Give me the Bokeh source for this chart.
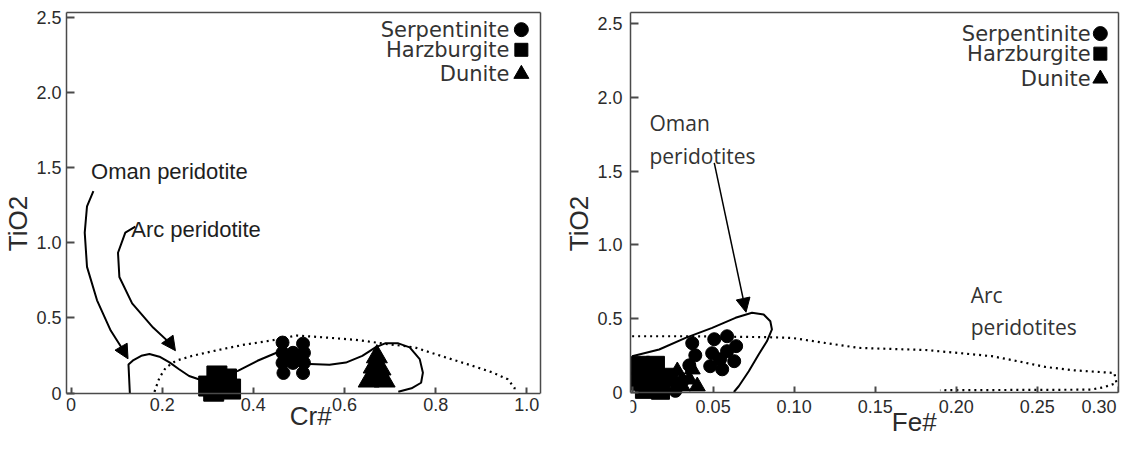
from bokeh.plotting import figure
from bokeh.layouts import row
from bokeh.models import Range1d, FixedTicker, Arrow, NormalHead, LinearAxis
from bokeh.core.properties import value
from bokeh.embed import file_html
from bokeh.resources import INLINE

NB = "\u00a0"

# ---------------- Left panel: Cr# vs TiO2 ----------------
cr_ticks = [0, 0.2, 0.4, 0.6, 0.8, 1.0]
cr_tick_labels = ["0", "0.2", "0.4", "0.6", "0.8", "1.0"]
ti_ticks = [0, 0.5, 1.0, 1.5, 2.0, 2.5]
ti_tick_labels = ["0", "0.5", "1.0", "1.5", "2.0", "2.5"]

# Oman peridotite field (solid)
cr_oman_x = [0.129, 0.126, 0.137, 0.154, 0.172, 0.194, 0.216, 0.237, 0.259, 0.280, 0.322, 0.366,
             0.409, 0.452, 0.482, 0.524, 0.567, 0.603, 0.639, 0.668, 0.689, 0.718, 0.743, 0.765,
             0.772, 0.768, 0.747, 0.718]
cr_oman_y = [0.0, 0.19, 0.22, 0.248, 0.26, 0.242, 0.204, 0.159, 0.114, 0.092, 0.10, 0.148,
             0.215, 0.27, 0.235, 0.193, 0.188, 0.203, 0.248, 0.304, 0.331, 0.331, 0.304, 0.226,
             0.136, 0.069, 0.032, 0.009]
# Arc peridotite field (dotted)
cr_arc_x = [0.183, 0.194, 0.208, 0.230, 0.266, 0.323, 0.380, 0.438, 0.495, 0.553, 0.625, 0.682,
            0.754, 0.811, 0.869, 0.926, 0.958, 0.973, 0.973]
cr_arc_y = [0.009, 0.103, 0.170, 0.215, 0.248, 0.287, 0.322, 0.349, 0.383, 0.371, 0.354, 0.331,
            0.304, 0.248, 0.193, 0.136, 0.092, 0.036, 0.002]

serp_cr_x = [0.464, 0.464, 0.464, 0.466, 0.487, 0.487, 0.509, 0.511, 0.511, 0.509, 0.481, 0.498]
serp_cr_y = [0.336, 0.268, 0.201, 0.134, 0.268, 0.201, 0.329, 0.268, 0.201, 0.134, 0.235, 0.235]
harz_cr_x = [0.302, 0.313, 0.320, 0.341, 0.350]
harz_cr_y = [0.047, 0.013, 0.114, 0.094, 0.027]
dun_cr_x = [0.653, 0.688, 0.671, 0.664, 0.679, 0.671]
dun_cr_y = [0.081, 0.081, 0.094, 0.174, 0.161, 0.242]

cr_oman_arrow_x = [0.049, 0.035, 0.030, 0.035, 0.057, 0.087, 0.111, 0.125]
cr_oman_arrow_y = [1.342, 1.242, 1.067, 0.839, 0.617, 0.416, 0.302, 0.228]
cr_arc_arrow_x = [0.141, 0.119, 0.103, 0.106, 0.134, 0.180, 0.218, 0.229]
cr_arc_arrow_y = [1.107, 1.067, 0.933, 0.772, 0.597, 0.436, 0.329, 0.282]

# ---------------- Right panel: Fe# vs TiO2 ----------------
fe_ticks = [0, 0.05, 0.10, 0.15, 0.20, 0.25, 0.30]
fe_tick_labels = ["0", "0.05", "0.10", "0.15", "0.20", "0.25", "0.30" + NB]

fe_oman_x = [0.0, 0.0167, 0.033, 0.0494, 0.0638, 0.074, 0.0812, 0.0853, 0.0863, 0.0832, 0.0781,
             0.072, 0.0658, 0.0628]
fe_oman_y = [0.245, 0.29, 0.369, 0.437, 0.505, 0.539, 0.528, 0.482, 0.426, 0.346, 0.256,
             0.143, 0.041, 0.002]
fe_arc_x = [0.0, 0.037, 0.083, 0.0986, 0.119, 0.140, 0.181, 0.201, 0.222, 0.238, 0.255, 0.273,
            0.2976, 0.299, 0.291, 0.283, 0.19]
fe_arc_y = [0.380, 0.380, 0.374, 0.369, 0.335, 0.301, 0.287, 0.267, 0.245, 0.211, 0.172, 0.149,
            0.131, 0.063, 0.034, 0.018, 0.014]

harz_fe_x = [0.0052, 0.0052, 0.0144, 0.0144, 0.0224, 0.0076, 0.0175]
harz_fe_y = [0.183, 0.075, 0.183, 0.075, 0.102, 0.020, 0.014]
dun_fe_x = [0.0279, 0.0353, 0.031, 0.0402, 0.0371]
dun_fe_y = [0.143, 0.088, 0.041, 0.041, 0.156]
serp_fe_x = [0.0371, 0.039, 0.0353, 0.0507, 0.0586, 0.0494, 0.0586, 0.0642, 0.0482, 0.0556,
             0.063, 0.0543, 0.0267, 0.031]
serp_fe_y = [0.333, 0.251, 0.183, 0.360, 0.380, 0.265, 0.279, 0.313, 0.177, 0.156,
             0.211, 0.224, 0.01, 0.075]

legend_names = ["Serpentinite", "Harzburgite", "Dunite"]
legend_markers = ["circle", "square", "triangle"]

TXT = "#2b2b2b"
AX = "#4a4a4a"
AXFONT = "Liberation Sans"


def style_axis(ax):
    ax.axis_line_color = AX
    ax.axis_line_width = 1.5
    ax.major_tick_line_color = AX
    ax.major_tick_line_width = 2
    ax.major_tick_out = 0
    ax.minor_tick_line_color = None
    ax.major_label_text_font = AXFONT
    ax.major_label_text_font_size = "18px"
    ax.major_label_text_color = TXT
    ax.axis_label_text_font = AXFONT
    ax.axis_label_text_font_size = "26px"
    ax.axis_label_text_font_style = "normal"
    ax.axis_label_text_color = TXT


def frame_line_axis(bounds=None):
    ax = LinearAxis(ticker=FixedTicker(ticks=[]))
    if bounds is not None:
        ax.bounds = bounds
    ax.axis_line_color = AX
    ax.axis_line_width = 1.5
    ax.major_tick_out = 0
    ax.major_tick_in = 0
    ax.minor_tick_line_color = None
    ax.major_label_standoff = 0
    ax.axis_label_standoff = 0
    return ax


def make_fig(width, height, xr, yr, bl, br, bt, ymax, xticks, xlabels, xtitle):
    p = figure(width=width, height=height, x_range=Range1d(*xr), y_range=Range1d(*yr),
               output_backend="svg", toolbar_location=None, title=None,
               min_border_left=bl, min_border_right=br, min_border_top=bt, min_border_bottom=0)
    p.grid.visible = False
    p.outline_line_color = None
    p.background_fill_color = "white"
    p.border_fill_color = "white"
    xa, ya = p.xaxis[0], p.yaxis[0]
    style_axis(xa)
    style_axis(ya)
    xa.fixed_location = 0
    ya.bounds = (0, ymax)
    xa.major_tick_in = 6
    ya.major_tick_in = 8
    xa.major_label_standoff = 5
    ya.major_label_standoff = 5
    xa.axis_label_standoff = -14
    ya.axis_label_standoff = 0
    xa.ticker = FixedTicker(ticks=xticks)
    xa.major_label_overrides = dict(zip(xticks, xlabels))
    ya.ticker = FixedTicker(ticks=ti_ticks)
    ya.major_label_overrides = dict(zip(ti_ticks, ti_tick_labels))
    xa.axis_label = xtitle
    ya.axis_label = "TiO2"
    p.add_layout(frame_line_axis((0, ymax)), "right")
    p.add_layout(frame_line_axis(), "above")
    return p, xa, ya


def add_legend(p, tx, mx, ys, sizes):
    p.text(x=[tx] * 3, y=ys, text=legend_names, text_font=value("DejaVu Sans"),
           text_font_size="21px", text_align="right", text_baseline="middle", text_color="#333333")
    for m, yy, s in zip(legend_markers, ys, sizes):
        p.scatter(x=[mx], y=[yy], marker=m, size=s, color="black")


# ---------- left ----------
p1, xa1, ya1 = make_fig(555, 434, (-0.01, 1.03), (-0.275, 2.53), 64, 15, 7, 2.53,
                        cr_ticks, cr_tick_labels, NB * 2 + "Cr#")

p1.line(cr_arc_x, cr_arc_y, line_color="black", line_width=2.2, line_dash="2 4")
p1.line(cr_oman_x, cr_oman_y, line_color="black", line_width=2)
p1.scatter(harz_cr_x, harz_cr_y, marker="square", size=20, color="black")
p1.scatter(serp_cr_x, serp_cr_y, marker="circle", size=13, color="black")
p1.scatter(dun_cr_x, dun_cr_y, marker="triangle", size=21, color="black")

for ax_, ay_ in ((cr_oman_arrow_x, cr_oman_arrow_y), (cr_arc_arrow_x, cr_arc_arrow_y)):
    p1.line(ax_[:-1], ay_[:-1], line_color="black", line_width=2)
    p1.add_layout(Arrow(x_start=ax_[-2], y_start=ay_[-2], x_end=ax_[-1], y_end=ay_[-1],
                        line_width=2, line_color="black",
                        end=NormalHead(size=14, fill_color="black", line_color="black")))

p1.text(x=[0.044, 0.132], y=[1.47, 1.087], text=["Oman peridotite", "Arc peridotite"],
        text_font=value("Liberation Sans"), text_font_size="22px",
        text_align="left", text_baseline="middle", text_color="#1e1e1e")
add_legend(p1, 0.962, 0.988, [2.416, 2.282, 2.121], [14, 13, 15])

# ---------- right ----------
p2, xa2, ya2 = make_fig(566, 434, (-0.001, 0.3002), (-0.286, 2.575), 75, 3, 12, 2.575,
                        fe_ticks, fe_tick_labels, NB * 11 + "Fe#")
ya2.major_label_standoff = 8

p2.line(fe_arc_x, fe_arc_y, line_color="black", line_width=2.2, line_dash="2 4")
p2.line(fe_oman_x, fe_oman_y, line_color="black", line_width=2)
p2.scatter(harz_fe_x, harz_fe_y, marker="square", size=18, color="black")
p2.scatter(dun_fe_x, dun_fe_y, marker="triangle", size=16, color="black")
p2.scatter(serp_fe_x, serp_fe_y, marker="circle", size=13, color="black")

p2.add_layout(Arrow(x_start=0.0507, y_start=1.556, x_end=0.0703, y_end=0.543,
                    line_width=1.5, line_color="black",
                    end=NormalHead(size=14, fill_color="black", line_color="black")))
p2.text(x=[0.0107, 0.0107, 0.209, 0.209], y=[1.827, 1.603, 0.659, 0.442],
        text=["Oman", "peridotites", "Arc", "peridotites"],
        text_font=value("Open Sans"), text_font_size="21px",
        text_align="left", text_baseline="middle", text_color="#333333")
add_legend(p2, 0.283, 0.289, [2.432, 2.296, 2.126], [14, 13, 15])

layout = row(p1, p2)
open("out.html", "w").write(file_html(layout, INLINE))
